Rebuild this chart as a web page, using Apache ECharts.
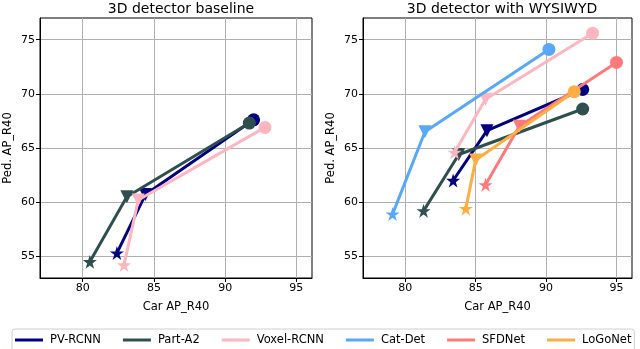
<!DOCTYPE html>
<html>
<head>
<meta charset="utf-8">
<script src="https://cdn.jsdelivr.net/npm/echarts@6/dist/echarts.min.js"></script>
<style>
  html, body { margin: 0; padding: 0; background: #fff; }
  #chart { width: 640px; height: 349px; }
</style>
</head>
<body>
<div id="chart"></div>
<script>
// Car vs Ped AP_R40 for the baseline detectors (left) and with WYSIWYD (right).
// Each method is 3 points: star -> down-triangle -> circle.
const METHODS = ["PV-RCNN", "Part-A2", "Voxel-RCNN", "Cat-Det", "SFDNet", "LoGoNet"];
const COLORS = ["#000080", "#2F4F4F", "#FFB6C1", "#58A8F7", "#FF7B7B", "#FFAE45"];

const baselineCar = [[82.4, 84.4, 92.0], [80.5, 83.1, 91.7], [82.9, 83.9, 92.8]];
const baselinePed = [[55.3, 60.7, 67.6], [54.5, 60.5, 67.3], [54.2, 60.2, 66.9]];

const wysiwydCar = [[83.4, 85.8, 92.6], [81.3, 83.8, 92.6], [83.5, 85.7, 93.3], [79.1, 81.4, 90.2], [85.7, 88.1, 95.0], [84.3, 85.0, 92.0]];
const wysiwydPed = [[62.0, 66.6, 70.4], [59.2, 64.4, 68.6], [64.6, 69.5, 75.6], [58.9, 66.5, 74.1], [61.6, 67.0, 72.9], [59.4, 63.9, 70.2]];

const xTicks = [80, 85, 90, 95];
const yTicks = [55, 60, 65, 70, 75];

const STAR = "path://M50,0L61.23,34.55L97.55,34.55L68.17,55.9L79.39,90.45L50,69.1L20.61,90.45L31.83,55.9L2.45,34.55L38.77,34.55Z";
const TRI_DOWN = "path://M0,0L10,0L5,9Z";
const SYMBOLS = [[STAR, 14], [TRI_DOWN, 13], ["circle", 13]];

const FONT = "DejaVu Sans";

function mkSeries(cars, peds, idx) {
  return cars.map((xs, i) => ({
    name: METHODS[i], type: "line", xAxisIndex: idx, yAxisIndex: idx,
    color: COLORS[i], lineStyle: { width: 3, color: COLORS[i] },
    itemStyle: { color: COLORS[i], opacity: 1 },
    emphasis: { disabled: true }, silent: true, z: 3 + i,
    data: xs.map((x, k) => ({ value: [x, peds[i][k]], symbol: SYMBOLS[k][0], symbolSize: SYMBOLS[k][1] })),
  }));
}

function xAx(idx) {
  return {
    type: "value", gridIndex: idx, min: 77, max: 96.1,
    name: "Car AP_R40", nameLocation: "middle", nameGap: 23,
    nameTextStyle: { fontFamily: FONT, fontSize: 11.5, color: "#000" },
    axisLine: { show: true, onZero: false, lineStyle: { color: "#000", width: 1 } },
    axisTick: { show: true, length: 4, customValues: xTicks, lineStyle: { color: "#000" } },
    axisLabel: { customValues: xTicks, fontFamily: FONT, fontSize: 11, color: "#000", margin: 5 },
    splitLine: { show: true, lineStyle: { color: "#b0b0b0", width: 1 } },
  };
}
function yAx(idx) {
  return {
    type: "value", gridIndex: idx, min: 53, max: 77,
    name: "Ped. AP_R40", nameLocation: "middle", nameGap: 26,
    nameTextStyle: { fontFamily: FONT, fontSize: 11.5, color: "#000" },
    axisLine: { show: true, onZero: false, lineStyle: { color: "#000", width: 1 } },
    axisTick: { show: true, length: 4, customValues: yTicks, lineStyle: { color: "#000" } },
    axisLabel: { customValues: yTicks, fontFamily: FONT, fontSize: 11, color: "#000", margin: 5 },
    splitLine: { show: true, lineStyle: { color: "#b0b0b0", width: 1 } },
  };
}

const chart = echarts.init(document.getElementById("chart"), null, { renderer: "canvas" });
chart.setOption({
  animation: false,
  backgroundColor: "#fff",
  title: [
    { text: "3D detector baseline", left: 176, top: -3, textAlign: "center", textStyle: { fontFamily: FONT, fontSize: 14, fontWeight: "normal", color: "#000" } },
    { text: "3D detector with WYSIWYD", left: 497, top: -3, textAlign: "center", textStyle: { fontFamily: FONT, fontSize: 14, fontWeight: "normal", color: "#000" } },
  ],
  grid: [
    { left: 40, width: 272, top: 18, height: 260, show: true, borderColor: "#000", borderWidth: 1 },
    { left: 363, width: 269, top: 18, height: 260, show: true, borderColor: "#000", borderWidth: 1 },
  ],
  xAxis: [xAx(0), xAx(1)],
  yAxis: [yAx(0), yAx(1)],
  legend: {
    data: METHODS, left: 12, top: 329, right: 1,
    orient: "horizontal", icon: "rect", itemWidth: 28, itemHeight: 3, itemGap: 22,
    padding: [5, 3, 6, 3],
    borderColor: "#d0d0d0", borderWidth: 1, borderRadius: 3,
    textStyle: { fontFamily: FONT, fontSize: 11.5, color: "#000", padding: [0, 0, 0, 2] },
  },
  series: [...mkSeries(baselineCar, baselinePed, 0), ...mkSeries(wysiwydCar, wysiwydPed, 1)],
});
</script>
</body>
</html>
